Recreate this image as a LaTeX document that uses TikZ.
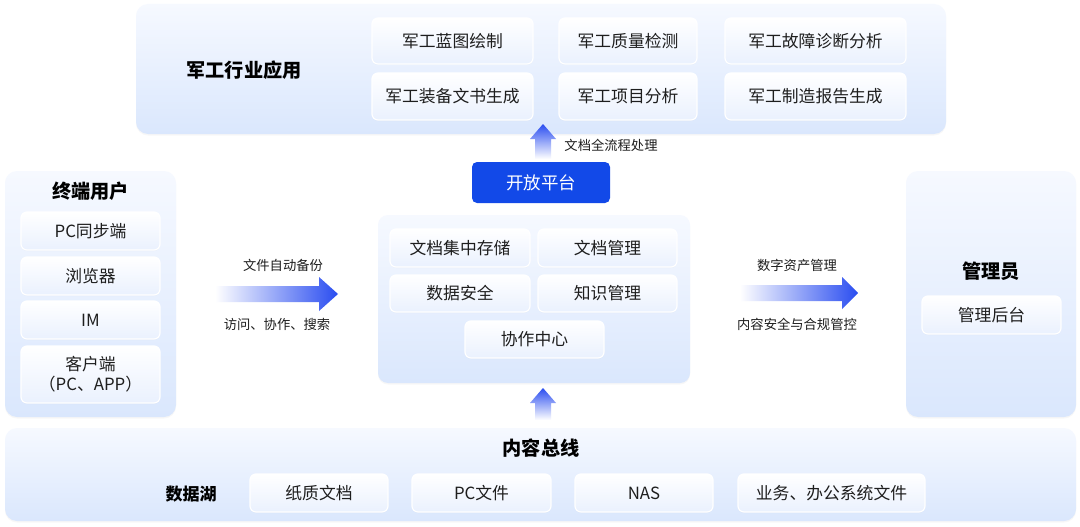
\documentclass[tikz,border=0pt]{standalone}
\usepackage{fontspec}
\setmainfont{Noto Sans CJK SC}
\usetikzlibrary{shadows}
\definecolor{pbot}{HTML}{DAE7FD}
\definecolor{ptop}{HTML}{F6F9FF}
\definecolor{bbot}{HTML}{EAF1FE}
\definecolor{oblue}{HTML}{1249E8}
\definecolor{ablue}{HTML}{2A4DF0}
\definecolor{txt}{HTML}{1E1E1E}
\tikzset{
 panel/.style={rounded corners=12pt, top color=ptop, bottom color=pbot, draw=none,
   drop shadow={opacity=0.06, shadow xshift=0pt, shadow yshift=-1.5pt}},
 ibox/.style={rounded corners=6pt, top color=white, bottom color=bbot, draw=white, line width=1.2pt,
   font=\fontsize{16.8}{20}\selectfont, text=txt, inner sep=0pt,
   drop shadow={opacity=0.05, shadow xshift=0pt, shadow yshift=-1pt}},
 ttl/.style={font=\fontsize{19.2}{22}\selectfont\bfseries, text=black},
 lbl/.style={font=\fontsize{13.3}{16}\selectfont, text=txt},
 harrow/.style={left color=white, right color=ablue, draw=none},
 varrow/.style={top color=ablue, bottom color=white, draw=none},
}
\begin{document}
\begin{tikzpicture}[x=1pt,y=-1pt]
\useasboundingbox[fill=white] (0,0) rectangle (1080,527);
% panels
\node[panel, minimum width=810pt, minimum height=130pt] (toppanel) at (541,69) {};
\node[panel, minimum width=171pt, minimum height=246pt] (leftpanel) at (90.5,294) {};
\node[panel, minimum width=170pt, minimum height=246pt] (rightpanel) at (991,294) {};
\node[panel, minimum width=1071pt, minimum height=93pt] (botpanel) at (540.5,474.5) {};
\node[panel, rounded corners=10pt, minimum width=312pt, minimum height=168pt] (midpanel) at (534,299) {};
% top
\node[ttl] (ttop) at (244,70) {军工行业应用};
\node[ibox, minimum width=161pt, minimum height=46pt] (t1) at (452.5,41) {军工蓝图绘制};
\node[ibox, minimum width=138pt, minimum height=46pt] (t2) at (628,41) {军工质量检测};
\node[ibox, minimum width=181pt, minimum height=46pt] (t3) at (815.5,41) {军工故障诊断分析};
\node[ibox, minimum width=161pt, minimum height=47pt] (t4) at (452.5,96.5) {军工装备文书生成};
\node[ibox, minimum width=138pt, minimum height=47pt] (t5) at (628,96.5) {军工项目分析};
\node[ibox, minimum width=181pt, minimum height=47pt] (t6) at (815.5,96.5) {军工制造报告生成};
% open platform
\node[fill=oblue, rounded corners=5pt, minimum width=138pt, minimum height=41pt, text=white,
  font=\fontsize{17.5}{20}\selectfont, inner sep=0pt] (open) at (541,182.5) {开放平台};
\coordinate (ua) at (543,124);
\path[varrow] (ua) -- ++(13,15) -- ++(-5,0) -- ++(0,20) -- ++(-16,0) -- ++(0,-20) -- ++(-5,0) -- cycle;
\node[lbl] (lflow) at (611,145) {文档全流程处理};
% middle
\node[ibox, minimum width=140pt, minimum height=38pt] (m1) at (460,248) {文档集中存储};
\node[ibox, minimum width=139pt, minimum height=38pt] (m2) at (607.5,248) {文档管理};
\node[ibox, minimum width=140pt, minimum height=37pt] (m3) at (460,293.5) {数据安全};
\node[ibox, minimum width=139pt, minimum height=37pt] (m4) at (607.5,293.5) {知识管理};
\node[ibox, minimum width=139pt, minimum height=37pt] (m5) at (534.5,339.5) {协作中心};
\coordinate (ub) at (543,388);
\path[varrow] (ub) -- ++(13,15) -- ++(-5,0) -- ++(0,17) -- ++(-16,0) -- ++(0,-17) -- ++(-5,0) -- cycle;
% left
\node[ttl] (tleft) at (90.5,191) {终端用户};
\node[ibox, minimum width=139pt, minimum height=38pt] (l1) at (90.5,231) {PC同步端};
\node[ibox, minimum width=139pt, minimum height=38pt] (l2) at (90.5,276) {浏览器};
\node[ibox, minimum width=139pt, minimum height=38pt] (l3) at (90.5,320) {IM};
\node[ibox, minimum width=139pt, minimum height=57pt, align=center] (l4) at (90.5,374.5) {客户端\\（PC、APP）};
\coordinate (la) at (338,294);
\path[harrow] (215,286) -- (319,286) -- (319,277) -- (la) -- (319,311) -- (319,302) -- (215,302) -- cycle;
\node[lbl] (ll1) at (283,265) {文件自动备份};
\node[lbl] (ll2) at (277,324) {访问、协作、搜索};
% right
\node[ttl] (tright) at (991,271) {管理员};
\node[ibox, minimum width=139pt, minimum height=38pt] (r1) at (991.5,315) {管理后台};
\coordinate (ra) at (858,293);
\path[harrow] (740,285) -- (842,285) -- (842,277) -- (ra) -- (842,309) -- (842,301) -- (740,301) -- cycle;
\node[lbl] (rl1) at (797,265) {数字资产管理};
\node[lbl] (rl2) at (797,324) {内容安全与合规管控};
% bottom
\node[ttl] (tbot) at (541,448) {内容总线};
\node[ttl, font=\fontsize{17}{20}\selectfont\bfseries] (tlake) at (191,494) {数据湖};
\node[ibox, minimum width=138pt, minimum height=38pt] (b1) at (319,493) {纸质文档};
\node[ibox, minimum width=139pt, minimum height=38pt] (b2) at (481.5,493) {PC文件};
\node[ibox, minimum width=138pt, minimum height=38pt] (b3) at (644,493) {NAS};
\node[ibox, minimum width=187pt, minimum height=38pt] (b4) at (831.5,493) {业务、办公系统文件};
\end{tikzpicture}
\end{document}
